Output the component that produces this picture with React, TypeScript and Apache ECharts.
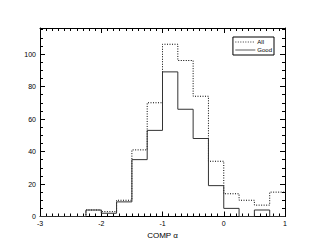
import React, { useEffect, useRef } from "react";
import * as echarts from "echarts";

const binStarts = [-3, -2.75, -2.5, -2.25, -2, -1.75, -1.5, -1.25, -1, -0.75, -0.5, -0.25, 0, 0.25, 0.5, 0.75];
const binWidth = 0.25;
const allCounts = [0, 0, 0, 4, 3, 10, 41, 70, 106, 96, 74, 34, 14, 10, 7, 15];
const goodCounts = [0, 0, 0, 4, 2, 9, 35, 53, 89, 66, 48, 19, 5, 0, 4, 0];
const xTitle = "COMP \u03b1";
const seriesNames = ["All", "Good"];

function stepData(vals: number[]) {
  const d: number[][] = binStarts.map((x, i) => [x, vals[i]]);
  d.push([binStarts[binStarts.length - 1] + binWidth, vals[vals.length - 1]]);
  return d;
}

export default function App() {
  const ref = useRef<HTMLDivElement>(null);
  useEffect(() => {
    if (!ref.current) return;
    const chart = echarts.init(ref.current, null, { renderer: "svg" });
    const font = "Liberation Sans, Arial, sans-serif";
    const axisLine = { show: true, onZero: false, lineStyle: { color: "#000", width: 1 } };
    const tick = { show: true, inside: true, length: 5, lineStyle: { color: "#000" } };
    chart.setOption({
      animation: false,
      backgroundColor: "#fff",
      grid: { left: 40, right: 26, top: 28, bottom: 32.5, containLabel: false },
      legend: {
        data: seriesNames,
        orient: "vertical",
        right: 37,
        top: 37,
        itemWidth: 20,
        itemHeight: 6,
        itemGap: 2,
        padding: [2, 2, 2, 2],
        borderColor: "#000",
        borderWidth: 1,
        borderRadius: 0,
        itemStyle: { opacity: 0, borderWidth: 0 },
        lineStyle: { width: 0.8 },
        textStyle: { fontSize: 6, fontFamily: font, color: "#000", lineHeight: 6, padding: [0, 0, 0, -3] },
      },
      xAxis: [
        {
          type: "value",
          min: -3,
          max: 1,
          interval: 1,
          name: xTitle,
          nameLocation: "middle",
          nameGap: 15,
          nameTextStyle: { fontSize: 8, fontFamily: font, color: "#000" },
          axisLabel: { fontSize: 7, fontFamily: font, color: "#000", margin: 3 },
          axisTick: tick,
          minorTick: { show: true, splitNumber: 10, length: 3, lineStyle: { color: "#000" } },
          axisLine,
          splitLine: { show: false },
        },
        {
          type: "value",
          position: "top",
          min: -3,
          max: 1,
          interval: 1,
          axisLabel: { show: false },
          axisTick: tick,
          minorTick: { show: true, splitNumber: 10, length: 3, lineStyle: { color: "#000" } },
          axisLine,
          splitLine: { show: false },
        },
      ],
      yAxis: [
        {
          type: "value",
          min: 0,
          max: 116,
          interval: 20,
          axisLabel: {
            fontSize: 7,
            fontFamily: font,
            color: "#000",
            margin: 4,
            formatter: (v: number) => (v % 20 === 0 ? String(v) : ""),
          },
          axisTick: tick,
          minorTick: { show: true, splitNumber: 4, length: 3, lineStyle: { color: "#000" } },
          axisLine,
          splitLine: { show: false },
        },
        {
          type: "value",
          position: "right",
          min: 0,
          max: 116,
          interval: 20,
          axisLabel: { show: false },
          axisTick: tick,
          minorTick: { show: true, splitNumber: 4, length: 3, lineStyle: { color: "#000" } },
          axisLine,
          splitLine: { show: false },
        },
      ],
      series: [
        {
          name: seriesNames[0],
          type: "line",
          step: "end",
          symbol: "none",
          data: stepData(allCounts),
          color: "#000",
          lineStyle: { color: "#000", width: 1, type: [1, 1.5] },
        },
        {
          name: seriesNames[1],
          type: "line",
          step: "end",
          symbol: "none",
          data: stepData(goodCounts),
          color: "#333",
          lineStyle: { color: "#333", width: 1, type: "solid" },
        },
      ],
    });
    return () => chart.dispose();
  }, []);
  return (
    <div
      ref={ref}
      style={{ position: "fixed", left: 0, top: 0, width: 311, height: 249 }}
    />
  );
}
